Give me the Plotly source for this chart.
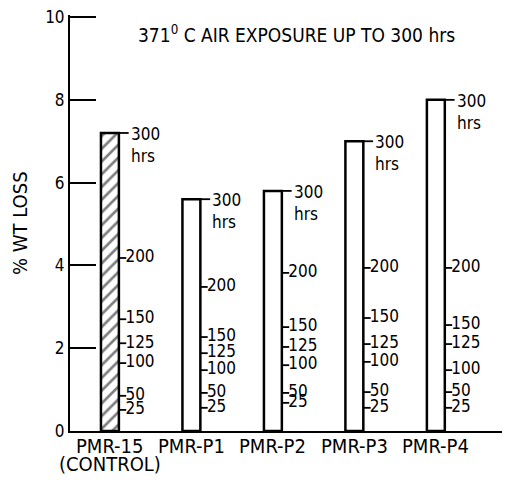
import plotly.graph_objects as go

categories = ["PMR-15", "PMR-P1", "PMR-P2", "PMR-P3", "PMR-P4"]
category_notes = ["(CONTROL)", "", "", "", ""]
wt_loss_300h = [7.2, 5.6, 5.8, 7.0, 8.0]
hour_labels = ["25", "50", "100", "125", "150", "200"]
# % wt loss reached at each exposure time
wt_loss_at_hours = [
    [0.51, 0.85, 1.64, 2.12, 2.70, 4.18],
    [0.56, 0.92, 1.47, 1.88, 2.27, 3.48],
    [0.68, 0.92, 1.59, 2.03, 2.51, 3.82],
    [0.56, 0.94, 1.67, 2.10, 2.73, 3.94],
    [0.56, 0.94, 1.47, 2.10, 2.56, 3.94],
]
y_ticks = [0, 2, 4, 6, 8, 10]

FONT = "DejaVu Sans Condensed, Liberation Sans Narrow, sans-serif"
BW = 0.22
xpos = list(range(len(categories)))

fig = go.Figure()
fig.add_trace(go.Bar(
    x=xpos, y=wt_loss_300h, width=BW,
    marker=dict(color="white", line=dict(color="black", width=2.5),
                pattern=dict(shape=["/", "", "", "", ""], fgcolor="black",
                             bgcolor="white", size=9, solidity=0.3)),
    showlegend=False, hoverinfo="skip"))

# side tick marks
tx, ty = [], []
for i, vals in enumerate(wt_loss_at_hours):
    xr = xpos[i] + BW / 2
    for v in vals:
        tx += [xr, xr + 0.09, None]
        ty += [v, v, None]
    tx += [xr, xr + 0.12, None]
    ty += [wt_loss_300h[i], wt_loss_300h[i], None]
fig.add_trace(go.Scatter(x=tx, y=ty, mode="lines", line=dict(color="black", width=1.8),
                         showlegend=False, hoverinfo="skip"))

# side labels
lx, ly, lt = [], [], []
for i, vals in enumerate(wt_loss_at_hours):
    xr = xpos[i] + BW / 2 + 0.08
    for v, t in zip(vals, hour_labels):
        lx.append(xr); ly.append(v); lt.append(t)
fig.add_trace(go.Scatter(x=lx, y=ly, text=lt, mode="text", textposition="middle right",
                         textfont=dict(family=FONT, size=17, color="black"),
                         showlegend=False, hoverinfo="skip"))

annotations = []
for i in xpos:
    annotations.append(dict(text="300<br>hrs", x=xpos[i] + BW / 2 + 0.12, y=wt_loss_300h[i],
                            xref="x", yref="y", xanchor="left", yanchor="top", yshift=11,
                            showarrow=False, align="left",
                            font=dict(family=FONT, size=17, color="black")))
    annotations.append(dict(text=categories[i], x=xpos[i], y=0, xref="x", yref="paper",
                            xanchor="center", yanchor="top", yshift=-1, showarrow=False,
                            font=dict(family=FONT, size=20, color="black")))
    if category_notes[i]:
        annotations.append(dict(text=category_notes[i], x=xpos[i], y=0, xref="x",
                                yref="paper", xanchor="center", yanchor="top", yshift=-19,
                                showarrow=False, font=dict(family=FONT, size=20, color="black")))
annotations.append(dict(text="371<sup>0</sup> C AIR EXPOSURE UP TO 300 hrs", x=0.515, y=0.955,
                        xref="paper", yref="paper", xanchor="center", yanchor="middle",
                        showarrow=False, font=dict(size=19, family=FONT, color="black")))
annotations.append(dict(text="% WT LOSS", x=-50 / 440, y=0.5, xref="paper", yref="paper",
                        textangle=-90, xanchor="center", yanchor="middle", showarrow=False,
                        font=dict(size=20, family=FONT, color="black")))

# page body has an 8px default margin, so the figure is 8px smaller and margins shifted
fig.update_layout(
    width=502, height=472,
    margin=dict(l=62, r=0, t=7, b=49),
    paper_bgcolor="white", plot_bgcolor="white",
    font=dict(family=FONT, color="black"),
    xaxis=dict(range=[-0.49, 4.91], showticklabels=False, automargin=False,
               showline=True, linecolor="black", linewidth=1.5, ticks="",
               showgrid=False, zeroline=False),
    yaxis=dict(range=[0, 10.05], tickvals=y_ticks, showline=True, linecolor="black",
               linewidth=2, ticks="inside", ticklen=26, tickwidth=1.5, tickcolor="black",
               showgrid=False, zeroline=False, automargin=False, ticklabeloverflow="allow",
               tickfont=dict(size=17, family=FONT)),
    annotations=annotations,
)
fig.write_html("out.html")
